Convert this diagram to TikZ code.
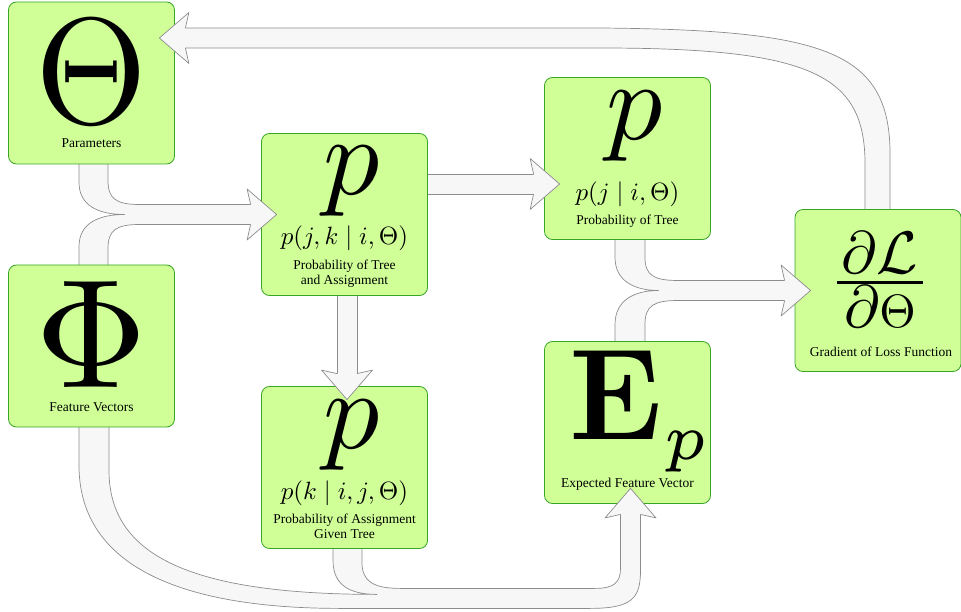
\documentclass[tikz,border=0pt]{standalone}
\usepackage{amsmath}
\usepackage{graphicx}
\usepackage[no-math]{fontspec}
\setmainfont{Liberation Serif}
\usepackage{tikz}
\usetikzlibrary{calc}
\definecolor{boxgreen}{RGB}{208,255,152}
\definecolor{boxedge}{RGB}{56,166,36}
\definecolor{arrowfill}{RGB}{247,247,247}
\definecolor{arrowedge}{RGB}{140,140,140}
\pgfdeclarelayer{background}
\pgfsetlayers{background,main}

\begin{document}
\begin{tikzpicture}[
    x=1pt, y=-1pt,
    box/.style={draw=boxedge, fill=boxgreen, line width=0.8pt,
                rounded corners=8pt, minimum width=166pt,
                minimum height=162pt, inner sep=0pt},
    bigsym/.style={anchor=base, inner sep=0pt},
    formula/.style={anchor=base, inner sep=0pt},
    boxlabel/.style={anchor=base, inner sep=0pt, align=center,
                     font=\fontsize{13.5}{15.5}\selectfont},
    fatbody/.style={draw=arrowedge, fill=arrowfill, line width=0.7pt,
                    line join=round},
    fathead/.pic={\draw[fatbody] (-26,-10) -- (-29.5,-25.5) -- (0,0)
                    -- (-29.5,25.5) -- (-26,10);}
  ]
    \useasboundingbox (0,0) rectangle (961,612);

    \node[box] (theta) at (91.5,83) {};
    \node[box] (phi) at (91.5,346) {};
    \node[box] (pjk) at (344.5,214.5) {};
    \node[box] (pk) at (344.5,467.5) {};
    \node[box] (pj) at (627.5,158.5) {};
    \node[box] (ep) at (627.5,422.5) {};
    \node[box] (dloss) at (878,290.5) {};

    \node[bigsym] (thetasym) at ($(theta.north)+(0,122)$)
      {\scalebox{14.4}[15.1]{$\Theta$}};
    \node[boxlabel] (thetatxt) at ($(theta.north)+(0,146)$) {Parameters};

    \node[bigsym] (phisym) at ($(phi.north)+(0,123)$)
      {\scalebox{15.5}{$\Phi$}};
    \node[boxlabel] (phitxt) at ($(phi.north)+(0,147)$) {Feature Vectors};

    \node[bigsym, xshift=7pt] (pjksym) at ($(pjk.north)+(0,61.5)$)
      {\scalebox{11.2}{$p$}};
    \node[formula] (pjkeq) at ($(pjk.north)+(0,111.5)$)
      {\scalebox{2.5}{$p(j,k\mid i,\Theta)$}};
    \node[boxlabel] (pjktxt) at ($(pjk.north)+(0,151.5)$)
      {Probability of Tree\\and Assignment};

    \node[bigsym, xshift=7pt] (pjsym) at ($(pj.north)+(0,62.5)$)
      {\scalebox{11.2}{$p$}};
    \node[formula] (pjeq) at ($(pj.north)+(0,123.5)$)
      {\scalebox{2.5}{$p(j\mid i,\Theta)$}};
    \node[boxlabel] (pjtxt) at ($(pj.north)+(0,147.5)$)
      {Probability of Tree};

    \node[bigsym, xshift=7pt] (pksym) at ($(pk.north)+(0,62.5)$)
      {\scalebox{11.2}{$p$}};
    \node[formula] (pkeq) at ($(pk.north)+(0,113.5)$)
      {\scalebox{2.5}{$p(k\mid i,j,\Theta)$}};
    \node[boxlabel] (pktxt) at ($(pk.north)+(0,152.5)$)
      {Probability of Assignment\\Given Tree};

    \node[bigsym, xshift=14pt] (epsym) at ($(ep.north)+(0,98.5)$)
      {\scalebox{12.3}[13]{$\mathbf{E}_{\scriptscriptstyle p}$}};
    \node[boxlabel] (eptxt) at ($(ep.north)+(0,146.5)$)
      {Expected Feature Vector};

    \node[bigsym, xshift=2pt] (dlosssym) at ($(dloss.north)+(0,88.5)$)
      {\scalebox{6}{$\frac{\textstyle\mkern1.5mu\partial\mathcal{L}\mkern1.5mu}
        {\textstyle\partial\scalebox{0.78}{$\Theta$}}$}};
    \node[boxlabel, xshift=3pt] (dlosstxt) at ($(dloss.north)+(0,147.5)$)
      {Gradient of Loss Function};

    % fat connectors, kept under the boxes
    \begin{pgfonlayer}{background}
    \draw[fatbody] ($(theta.south)+(-12.5,-14)$) -- ($(theta.south)+(-12.5,18)$)
      .. controls ($(theta.south)+(-12.5,42)$) and ($(pjk.west)+(-161.5,0)$)
      .. ($(pjk.west)+(-136.5,0)$)
      .. controls ($(pjk.west)+(-161.5,0)$) and ($(phi.north)+(-12.5,-42)$)
      .. ($(phi.north)+(-12.5,-18)$)
      -- ($(phi.north)+(-12.5,15)$) -- ($(phi.north)+(16.5,15)$)
      -- ($(phi.north)+(16.5,-16)$)
      .. controls ($(phi.north)+(16.5,-34)$) and ($(pjk.west)+(-145.5,10)$)
      .. ($(pjk.west)+(-121.5,10)$)
      -- ($(pjk.west)+(0,10)$) -- ($(pjk.west)+(0,-10)$)
      -- ($(pjk.west)+(-121.5,-10)$)
      .. controls ($(pjk.west)+(-145.5,-10)$) and ($(theta.south)+(16.5,34)$)
      .. ($(theta.south)+(16.5,16)$)
      -- ($(theta.south)+(16.5,-14)$) -- cycle;

    \draw[fatbody] ($(pjk.east)+(-15,-40.5)$) rectangle ($(pj.west)+(0,35.5)$);
    \draw[fatbody] ($(pjk.south)+(-7.5,-15)$) rectangle ($(pk.north)+(12.5,-2.5)$);

    \draw[fatbody] ($(pj.south)+(-12.5,-14.5)$) -- ($(pj.south)+(-12.5,17.5)$)
      .. controls ($(pj.south)+(-12.5,40.5)$) and ($(dloss.west)+(-161,0)$)
      .. ($(dloss.west)+(-136,0)$)
      .. controls ($(dloss.west)+(-161,0)$) and ($(ep.north)+(-12.5,-40.5)$)
      .. ($(ep.north)+(-12.5,-16.5)$)
      -- ($(ep.north)+(-12.5,14.5)$) -- ($(ep.north)+(17.5,14.5)$)
      -- ($(ep.north)+(17.5,-16.5)$)
      .. controls ($(ep.north)+(17.5,-35.5)$) and ($(dloss.west)+(-141,10)$)
      .. ($(dloss.west)+(-116,10)$)
      -- ($(dloss.west)+(0,10)$) -- ($(dloss.west)+(0,-10)$)
      -- ($(dloss.west)+(-116,-10)$)
      .. controls ($(dloss.west)+(-141,-10)$) and ($(pj.south)+(17.5,35.5)$)
      .. ($(pj.south)+(17.5,17.5)$)
      -- ($(pj.south)+(17.5,-14.5)$) -- cycle;

    \draw[fatbody] ($(dloss.north)+(-13,15.5)$) -- ($(dloss.north)+(-13,-49.5)$)
      .. controls ($(dloss.north)+(-15,-134.5)$) and ($(theta.east)+(635.5,-35)$)
      .. ($(theta.east)+(425.5,-35)$)
      -- ($(theta.east)+(0.5,-35)$) -- ($(theta.east)+(0.5,-55)$)
      -- ($(theta.east)+(425.5,-55)$)
      .. controls ($(theta.east)+(645.5,-53)$) and ($(dloss.north)+(10,-159.5)$)
      .. ($(dloss.north)+(12,-59.5)$)
      -- ($(dloss.north)+(12,15.5)$) -- cycle;

    \draw[fatbody] ($(phi.south)+(-12.5,-15)$) -- ($(phi.south)+(-12.5,38)$)
      .. controls ($(phi.south)+(-12.5,133)$) and ($(ep.south)+(-457.5,104.5)$)
      .. ($(ep.south)+(-287.5,104.5)$)
      -- ($(ep.south)+(-37.5,104.5)$)
      .. controls ($(ep.south)+(4.5,104.5)$) and ($(ep.south)+(13,94.5)$)
      .. ($(ep.south)+(13,66.5)$)
      -- ($(ep.south)+(13,0.5)$) -- ($(ep.south)+(-7,0.5)$)
      -- ($(ep.south)+(-7,64.5)$)
      .. controls ($(ep.south)+(-7,78.5)$) and ($(ep.south)+(-13.5,84.5)$)
      .. ($(ep.south)+(-32.5,84.5)$)
      -- ($(pk.south)+(55.5,39.5)$)
      .. controls ($(pk.south)+(27.5,39.5)$) and ($(pk.south)+(17.5,31.5)$)
      .. ($(pk.south)+(17.5,13.5)$)
      -- ($(pk.south)+(17.5,-13.5)$) -- ($(pk.south)+(-11.5,-13.5)$)
      -- ($(pk.south)+(-11.5,11.5)$)
      .. controls ($(pk.south)+(-11.5,36.5)$) and ($(pk.south)+(5.5,45.5)$)
      .. ($(pk.south)+(32.5,45.5)$)
      .. controls ($(pk.south)+(-154.5,45.5)$) and ($(phi.south)+(17.5,128)$)
      .. ($(phi.south)+(17.5,43)$)
      -- ($(phi.south)+(17.5,-15)$) -- cycle;
    \end{pgfonlayer}

    % arrow heads on top of the boxes
    \pic at ($(pjk.west)+(15.5,0)$) {fathead};
    \pic at ($(pj.west)+(15.5,25.5)$) {fathead};
    \pic[rotate=-90] at ($(pk.north)+(2.5,13.5)$) {fathead};
    \pic at ($(dloss.west)+(16,0)$) {fathead};
    \pic[rotate=180] at ($(theta.east)+(-15.5,-45)$) {fathead};
    \pic[rotate=90] at ($(ep.south)+(3,-15.5)$) {fathead};
  \end{tikzpicture}
\end{document}
